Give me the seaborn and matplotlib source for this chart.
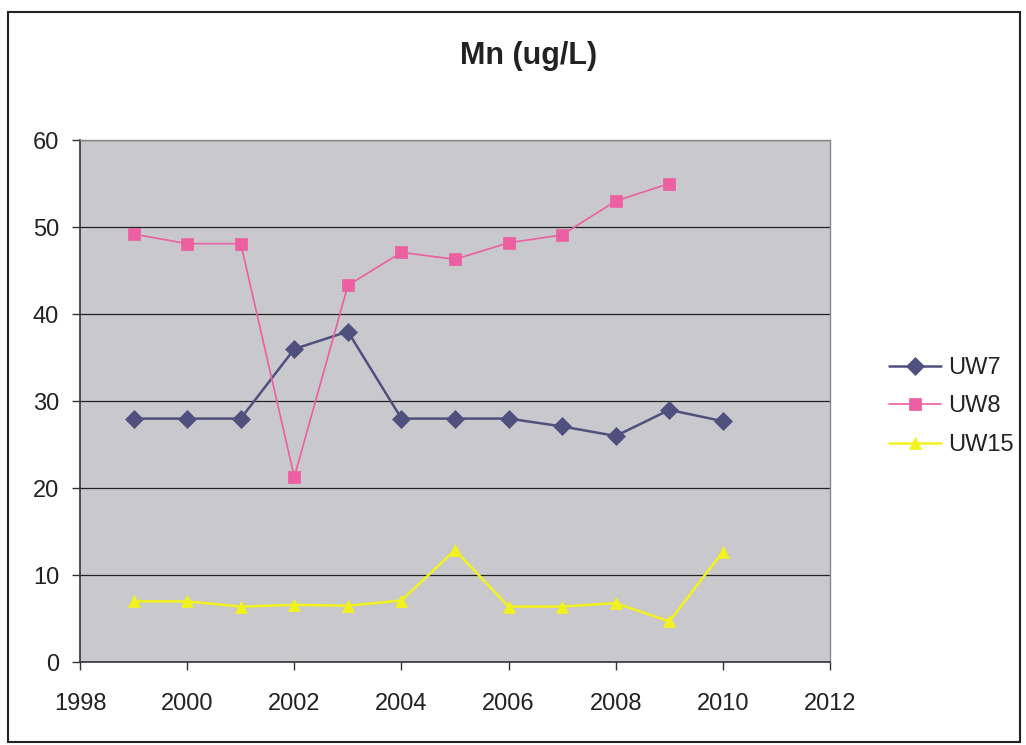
import matplotlib
matplotlib.use("Agg")
import matplotlib.pyplot as plt
import seaborn as sns
import pandas as pd
from matplotlib.patches import Rectangle

years = [1999, 2000, 2001, 2002, 2003, 2004, 2005, 2006, 2007, 2008, 2009, 2010]
uw7 = [28.0, 28.0, 28.0, 36.0, 38.0, 28.0, 28.0, 28.0, 27.1, 26.0, 29.0, 27.7]
uw8 = [49.2, 48.1, 48.1, 21.3, 43.3, 47.1, 46.3, 48.2, 49.1, 53.0, 55.0, None]
uw15 = [7.0, 7.0, 6.4, 6.6, 6.5, 7.1, 12.9, 6.4, 6.4, 6.8, 4.7, 12.7]
series_names = ["UW7", "UW8", "UW15"]
x_ticks = [1998, 2000, 2002, 2004, 2006, 2008, 2010, 2012]
y_ticks = [0, 10, 20, 30, 40, 50, 60]

rows = []
for name, vals in zip(series_names, [uw7, uw8, uw15]):
    for yr, v in zip(years, vals):
        if v is not None:
            rows.append({"Year": yr, "Mn": v, "Series": name})
df = pd.DataFrame(rows)

sns.set_theme(style="white")
plt.rcParams["font.family"] = ["Liberation Sans", "DejaVu Sans"]

fig = plt.figure(figsize=(10.26, 7.45), dpi=100)
ax = fig.add_axes([0.078, 0.111, 0.731, 0.701])

palette = {"UW7": "#50507e", "UW8": "#ec5fa0", "UW15": "#f2f21e"}
markers = {"UW7": "D", "UW8": "s", "UW15": "^"}

sns.lineplot(data=df, x="Year", y="Mn", hue="Series", style="Series",
             hue_order=series_names, style_order=series_names,
             palette=palette, markers=markers, dashes=False,
             markersize=9, linewidth=1.8, markeredgewidth=0.5, ax=ax)

for line in ax.get_lines():
    if line.get_color() == palette["UW8"] or line.get_label() == "UW8":
        line.set_linewidth(1.2)
    line.set_markeredgecolor(line.get_color())

ax.set_facecolor("#c9c9cd")
ax.set_xlim(1998, 2012)
ax.set_ylim(0, 60)
ax.set_xticks(x_ticks)
ax.set_yticks(y_ticks)
ax.set_xticklabels([str(t) for t in x_ticks], fontsize=17)
ax.set_yticklabels([str(t) for t in y_ticks], fontsize=17)
ax.set_xlabel("")
ax.set_ylabel("")
ax.grid(axis="y", color="#222222", linewidth=0.9)
ax.grid(axis="x", visible=False)
ax.set_axisbelow(True)
ax.tick_params(axis="both", direction="out", length=6, width=1, color="#333333",
               bottom=True, left=True, labelcolor="#222222")
ax.tick_params(axis="x", pad=16)
ax.tick_params(axis="y", pad=9)
for side in ["left", "bottom"]:
    ax.spines[side].set_color("#333333")
    ax.spines[side].set_linewidth(1.2)
for side in ["right", "top"]:
    ax.spines[side].set_color("#888888")
    ax.spines[side].set_linewidth(1.0)

handles, labels = ax.get_legend_handles_labels()
ax.legend(handles, labels, loc="center left", bbox_to_anchor=(1.05, 0.49),
          frameon=False, fontsize=17, handlelength=2.2, labelspacing=0.7,
          handletextpad=0.3, labelcolor="#222222")

fig.text(0.515, 0.925, "Mn (ug/L)", ha="center", va="center", fontsize=22,
         fontweight="bold", color="#222222")

fig.patches.append(Rectangle((0.008, 0.004), 0.986, 0.98, transform=fig.transFigure,
                             fill=False, edgecolor="#222222", linewidth=1.5))

fig.savefig("out.png", dpi=100, facecolor="white")
